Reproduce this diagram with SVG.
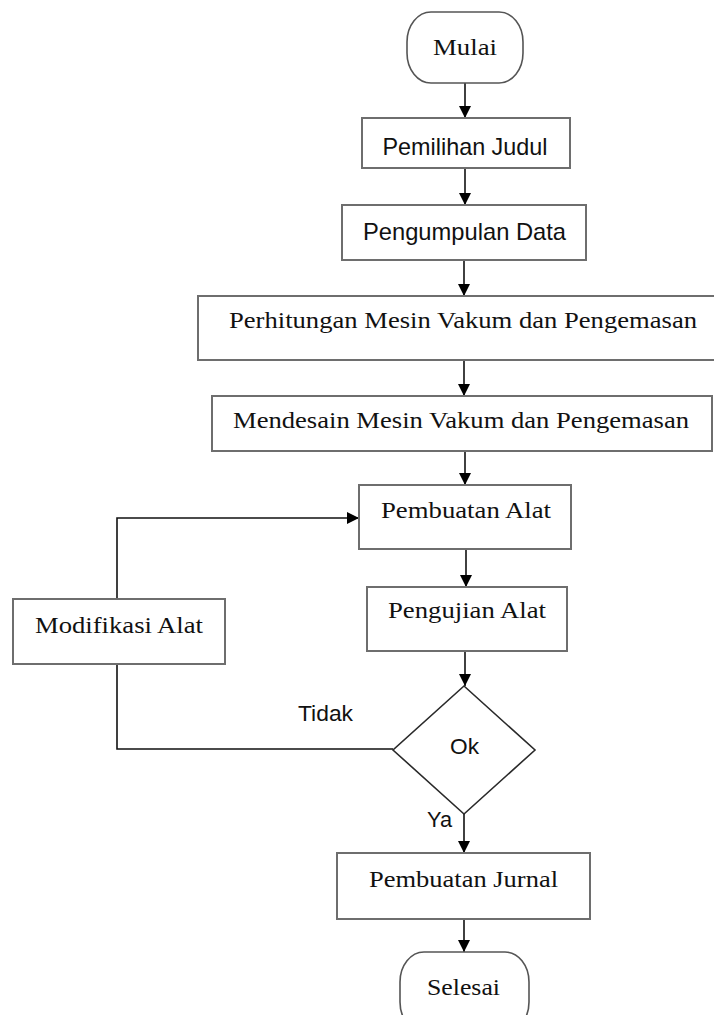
<svg xmlns="http://www.w3.org/2000/svg" width="714" height="1015" viewBox="0 0 714 1015">
<style>
.box{fill:#fff;stroke:#6e6e6e;stroke-width:2}
.term{fill:#fff;stroke:#555;stroke-width:1.6}
.dia{fill:#fff;stroke:#2a2a2a;stroke-width:1.6}
.ser{font-family:"Liberation Serif","Times New Roman",serif;font-size:24px;fill:#111;text-anchor:middle}
.san{font-family:"Liberation Sans",Arial,sans-serif;font-size:24px;fill:#111;text-anchor:middle}
.lbl{font-family:"Liberation Sans",Arial,sans-serif;font-size:22px;fill:#111}
.ln{fill:none;stroke:#111;stroke-width:1.6}
</style>
<defs>
<marker id="ah" viewBox="0 0 12 12" refX="12" refY="6" markerWidth="12" markerHeight="12" markerUnits="userSpaceOnUse" orient="auto">
<path d="M0,0 L12,6 L0,12 Z" fill="#000"/>
</marker>
</defs>
<rect width="714" height="1015" fill="#fff"/>
<g id="connectors">
<line class="ln" x1="465" y1="83" x2="465" y2="118" marker-end="url(#ah)"/>
<line class="ln" x1="465" y1="168" x2="465" y2="205" marker-end="url(#ah)"/>
<line class="ln" x1="464" y1="260" x2="464" y2="296" marker-end="url(#ah)"/>
<line class="ln" x1="464" y1="360" x2="464" y2="396" marker-end="url(#ah)"/>
<line class="ln" x1="465" y1="451" x2="465" y2="485" marker-end="url(#ah)"/>
<line class="ln" x1="466" y1="549" x2="466" y2="587" marker-end="url(#ah)"/>
<line class="ln" x1="465" y1="651" x2="465" y2="686" marker-end="url(#ah)"/>
<line class="ln" x1="464" y1="814" x2="464" y2="853" marker-end="url(#ah)"/>
<line class="ln" x1="464" y1="919" x2="464" y2="952" marker-end="url(#ah)"/>
<polyline class="ln" points="117,599 117,518 359,518" marker-end="url(#ah)"/>
<polyline class="ln" points="117,664 117,749 393,749"/>
<text class="lbl" x="298" y="721" textLength="55" lengthAdjust="spacingAndGlyphs">Tidak</text>
<text class="lbl" x="427" y="827" textLength="25" lengthAdjust="spacingAndGlyphs">Ya</text>
</g>
<g id="mulai">
<rect class="term" x="407" y="12" width="116" height="71" rx="24" ry="30"/>
<text class="ser" x="465" y="55" textLength="64" lengthAdjust="spacingAndGlyphs">Mulai</text>
</g>
<g id="pemilihan">
<rect class="box" x="362" y="118" width="208" height="50"/>
<text class="san" x="465" y="155" textLength="165" lengthAdjust="spacingAndGlyphs">Pemilihan Judul</text>
</g>
<g id="pengumpulan">
<rect class="box" x="342" y="205" width="244" height="55"/>
<text class="san" x="464.5" y="240" textLength="203" lengthAdjust="spacingAndGlyphs">Pengumpulan Data</text>
</g>
<g id="perhitungan">
<rect class="box" x="198" y="296" width="530" height="64"/>
<text class="ser" x="463" y="328" textLength="468" lengthAdjust="spacingAndGlyphs">Perhitungan Mesin Vakum dan Pengemasan</text>
</g>
<g id="mendesain">
<rect class="box" x="212" y="396" width="500" height="55"/>
<text class="ser" x="461" y="428" textLength="456" lengthAdjust="spacingAndGlyphs">Mendesain Mesin Vakum dan Pengemasan</text>
</g>
<g id="pembuatan-alat">
<rect class="box" x="359" y="485" width="212" height="64"/>
<text class="ser" x="466" y="518" textLength="170" lengthAdjust="spacingAndGlyphs">Pembuatan Alat</text>
</g>
<g id="pengujian">
<rect class="box" x="367" y="587" width="200" height="64"/>
<text class="ser" x="467" y="618" textLength="158" lengthAdjust="spacingAndGlyphs">Pengujian Alat</text>
</g>
<g id="modifikasi">
<rect class="box" x="13" y="599" width="212" height="65"/>
<text class="ser" x="119" y="633" textLength="168" lengthAdjust="spacingAndGlyphs">Modifikasi Alat</text>
</g>
<g id="ok">
<polygon class="dia" points="464,686 535,750 464,814 393,750"/>
<text class="lbl" x="464.5" y="754" text-anchor="middle" textLength="29" lengthAdjust="spacingAndGlyphs">Ok</text>
</g>
<g id="jurnal">
<rect class="box" x="337" y="853" width="253" height="66"/>
<text class="ser" x="463.5" y="887" textLength="189" lengthAdjust="spacingAndGlyphs">Pembuatan Jurnal</text>
</g>
<g id="selesai">
<rect class="term" x="400" y="952" width="129" height="80" rx="24" ry="30"/>
<text class="ser" x="463.5" y="995" textLength="73" lengthAdjust="spacingAndGlyphs">Selesai</text>
</g>
</svg>
